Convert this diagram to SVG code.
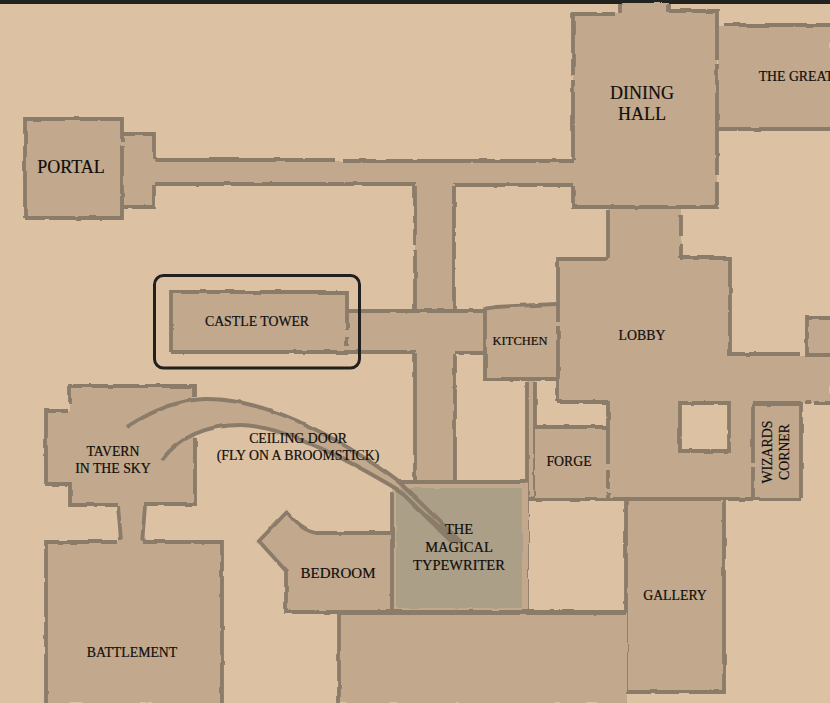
<svg xmlns="http://www.w3.org/2000/svg" width="830" height="703" viewBox="0 0 830 703">
<defs>
<filter id="rough" filterUnits="userSpaceOnUse" x="0" y="0" width="830" height="703">
<feTurbulence type="fractalNoise" baseFrequency="0.06" numOctaves="2" seed="4" result="n"/>
<feDisplacementMap in="SourceGraphic" in2="n" scale="3" xChannelSelector="R" yChannelSelector="G"/>
</filter>
</defs>
<style>
.room{fill:#c2a98d;filter:url(#rough)}
.wall{fill:none;stroke:#8b7b69;stroke-width:3.800;filter:url(#rough)}
.t{font-family:"Liberation Serif",serif;fill:#100e0c;stroke:#100e0c;stroke-width:.2;text-anchor:middle;font-size:13.800px}
.big{font-size:18px}
.hole{fill:#dcc1a3;filter:url(#rough)}
</style>
<rect width="830" height="703" fill="#dcc1a3"/>
<rect width="830" height="4" fill="#22221f"/>
<g id="connectors">
<path class="room" d="M150 161H580V184H150Z"/>
<path class="wall" d="M155 160H335M343 161H575M155 184H416M453 185H575"/>
<path class="room" d="M415 184H455V312H415Z"/>
<path class="wall" d="M415 186V245M415 250V310M454 186V310"/>
<path class="room" d="M347 312H486V352H347Z"/>
<path class="wall" d="M347 311H484M347 352H416M456 353H484"/>
<path class="room" d="M415 352H456V484H415Z"/>
<path class="wall" d="M415 354V481M455 355V481"/>
<path class="room" d="M608 205H681V262H608Z"/>
<path class="wall" d="M608 210V258M681 215V236M681 243V258"/>
<path class="room" d="M622 3H669V16H622Z"/>
<path class="wall" d="M621 4V14M669 4V12"/>
<path class="room" d="M119 505H145V543H119Z"/>
<path class="wall" d="M118 506L121 540M145 506L142 543"/>
<path class="room" d="M527 380H535V500H527Z"/>
<path class="wall" d="M527 382V610M535 382V498"/>
</g>
<g id="lobby">
<path class="room" d="M558 259H730V356H830V403H802V499H608V402H558Z"/>
<path class="wall" d="M558 304V259H608M681 258H730V354H800M558 402H608V427M753 403H801M805 403H811M814 403H830"/>
<path class="wall" d="M528 499H801"/>
<path class="hole" d="M680 404H729V451H680Z"/>
<path class="wall" d="M680 403H729V451H680Z"/>
<text class="t" x="642" y="340">LOBBY</text>
</g>
<g id="east-room"><path class="room" d="M807 318H830V355H807Z"/><path class="wall" d="M830 318H807V355H830"/></g>
<g id="great"><path class="room" d="M718 26H830V129H718Z"/><path class="wall" d="M724 25H830M718 129H830"/><text class="t" x="796" y="81">THE GREAT</text></g>
<g id="dining"><path class="room" d="M573 13H717V208H573Z"/><path class="wall" d="M573 160V80M573 75V14H615M669 11H717V60M717 64V175M717 182V207H573V186"/><text class="t big" x="642" y="99">DINING</text><text class="t big" x="642" y="120">HALL</text></g>
<g id="portal">
<path class="room" d="M122 134H155V208H122Z"/><path class="wall" d="M122 134H154V160M154 185V207H122"/>
<path class="room" d="M25 118H122V218H25Z"/><path class="wall" d="M25 218V119H122V142M122 145V218H25"/>
<text class="t big" x="71" y="173">PORTAL</text></g>
<g id="castle"><path class="room" d="M171 292H347V352H171Z"/><path class="wall" d="M171 352V292H347V330M347 337V346M171 352H347"/><text class="t" x="257" y="326">CASTLE TOWER</text></g>
<rect id="highlight" x="154.500" y="275.500" width="205" height="92.500" rx="9" fill="none" stroke="#22201e" stroke-width="3"/>
<g id="kitchen"><path class="room" d="M485 306H558V379H485Z"/><path class="wall" d="M557 304L495 307L485 309V379H557"/><path class="wall" d="M558 304V322M558 326V402"/><text class="t" style="font-size:12.500px" x="520" y="345">KITCHEN</text></g>
<g id="forge"><path class="room" d="M535 428H608V498H535Z"/><path class="wall" d="M535 427H608V464M608 470V488M608 492V498"/><text class="t" x="569" y="466">FORGE</text></g>
<g id="wizards"><path class="room" d="M753 404H802V498H753Z"/><path class="wall" d="M753 404H801V498M753 404V463M753 467V498"/><text class="t" transform="translate(772 452) rotate(-90)">WIZARDS</text><text class="t" transform="translate(789 452) rotate(-90)">CORNER</text></g>
<g id="gallery"><path class="room" d="M627 501H724V692H627Z"/><path class="wall" d="M626 500V692H724V500"/><text class="t" x="675" y="600">GALLERY</text></g>
<g id="hall"><path class="room" d="M339 613H627V703H339Z"/><path class="wall" d="M339 703V613H626"/></g>
<g id="bedroom"><path class="room" d="M287 512L310 533H392V612H287V571L259 541Z"/><path class="wall" d="M392 612H330M334 612H286V571L259 541L287 512Q300 530 316 533H390"/></g>
<g id="typewriter-floor"><path class="room" d="M392 483H528V612H392Z"/><path fill="#ac9f88" filter="url(#rough)" d="M396 488H522V608H396Z"/><path class="wall" d="M392 482H526M392 492V612M392 612H626"/></g>
<g id="tavern"><path class="room" d="M70 386H195V505H70V484H46V411H70Z"/><path class="wall" d="M70 404V386H195V397M195 438V504H144M118 505H70V484H46V411H68"/><text class="t" x="113" y="456">TAVERN</text><text class="t" x="113" y="473">IN THE SKY</text></g>
<g id="battlement"><path class="room" d="M46 541H223V703H46Z"/><path class="wall" d="M46 703V542H118M142 542H222V703"/><text class="t" x="132" y="657">BATTLEMENT</text></g>
<g id="ceiling-door">
<path fill="#c2a98d" d="M127 427C150 412 175 400 205 399C260 398 330 430 400 483L400 491C340 455 280 425 240 425C205 425 178 438 162 460Z"/>
<path fill="none" stroke="#8b7b69" stroke-width="4" filter="url(#rough)" d="M127 427C150 412 175 400 205 399C260 398 330 430 400 483L461 542"/>
<path fill="none" stroke="#8b7b69" stroke-width="4" filter="url(#rough)" d="M162 460C178 438 205 425 240 425C280 425 340 455 400 491L452 542"/>
<path fill="#8b7b69" d="M425 512L462 543H450Z"/>
<text class="t" x="298" y="443">CEILING DOOR</text><text class="t" x="298" y="460">(FLY ON A BROOMSTICK)</text>
</g>
<g id="typewriter"><text class="t" style="font-size:14.500px" x="459" y="534">THE</text><text class="t" style="font-size:14.500px" x="459" y="552">MAGICAL</text><text class="t" style="font-size:14.500px" x="459" y="570">TYPEWRITER</text></g>
<g id="bedroom-label"><text class="t" style="font-size:15px" x="338" y="578">BEDROOM</text></g>
</svg>
